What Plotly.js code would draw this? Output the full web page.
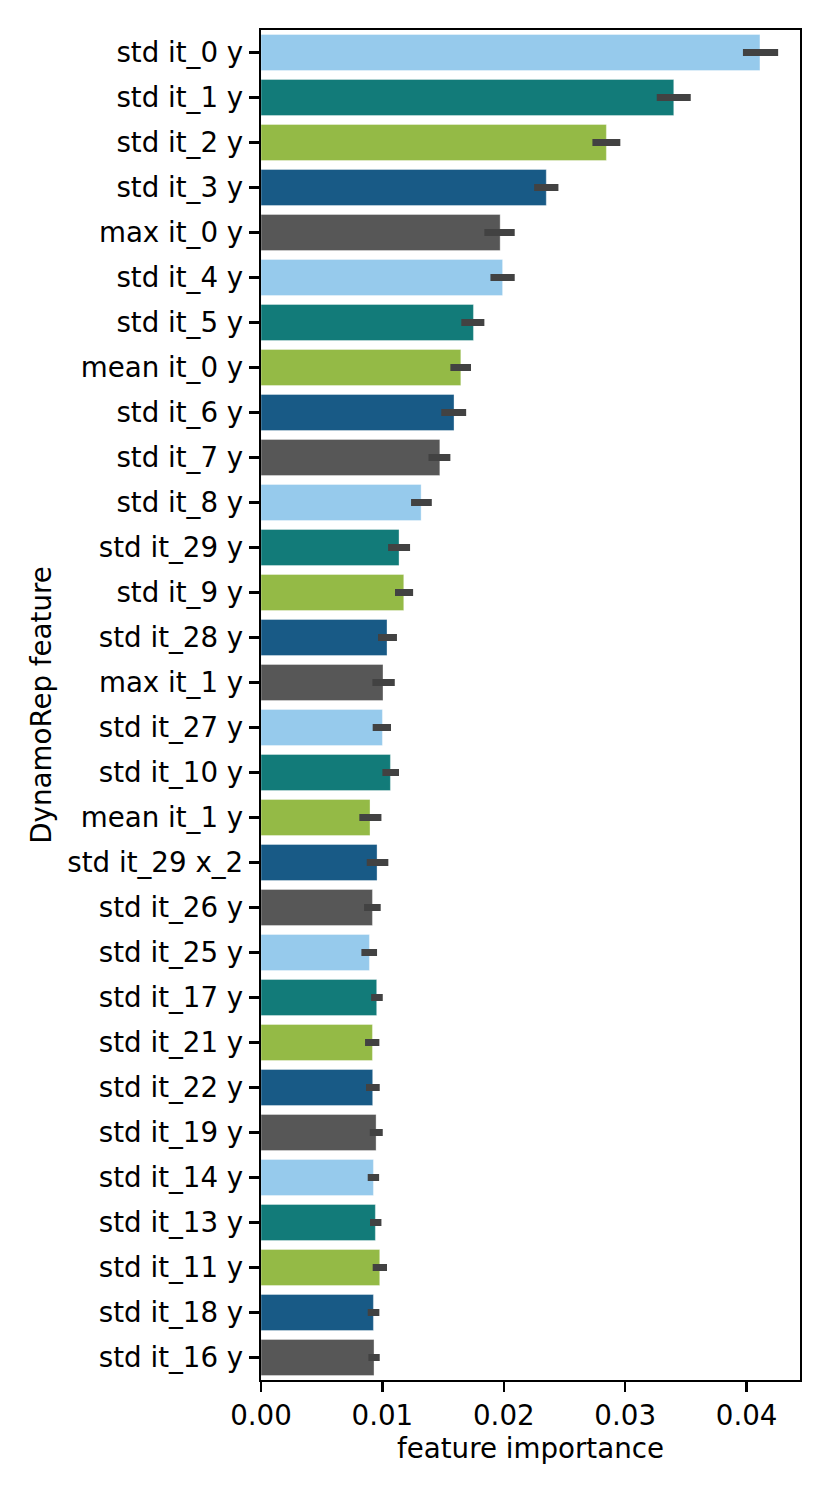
<!DOCTYPE html>
<html>
<head>
<meta charset="utf-8">
<script src="https://cdn.plot.ly/plotly-3.0.1.min.js"></script>
<style>html,body{margin:0;padding:0;background:#fff;}#chart{width:830px;height:1495px;}</style>
</head>
<body>
<div id="chart"></div>
<script>
const features = ["std it_0 y","std it_1 y","std it_2 y","std it_3 y","max it_0 y","std it_4 y","std it_5 y","mean it_0 y","std it_6 y","std it_7 y","std it_8 y","std it_29 y","std it_9 y","std it_28 y","max it_1 y","std it_27 y","std it_10 y","mean it_1 y","std it_29 x_2","std it_26 y","std it_25 y","std it_17 y","std it_21 y","std it_22 y","std it_19 y","std it_14 y","std it_13 y","std it_11 y","std it_18 y","std it_16 y"];
const importance = [0.0411,0.0340,0.02845,0.0235,0.0197,0.0199,0.0175,0.01646,0.0159,0.01473,0.01319,0.01137,0.01176,0.01038,0.01005,0.0100,0.01066,0.00898,0.00956,0.00918,0.00893,0.00953,0.00918,0.0092,0.00948,0.00926,0.00942,0.00978,0.00926,0.00931];
const ciLow = [0.0397,0.0326,0.0273,0.0225,0.0184,0.0189,0.0165,0.0156,0.01485,0.0138,0.01236,0.01047,0.01104,0.00964,0.00918,0.0092,0.0100,0.0081,0.00871,0.00849,0.00827,0.00907,0.00857,0.00865,0.00896,0.00879,0.00898,0.0092,0.00879,0.00885];
const ciHigh = [0.0426,0.0354,0.0296,0.0245,0.0209,0.0209,0.0184,0.0173,0.0169,0.0156,0.01407,0.01228,0.01253,0.0112,0.01102,0.01071,0.01137,0.00992,0.01049,0.00986,0.00956,0.01003,0.00975,0.00978,0.01003,0.00973,0.00992,0.01038,0.00975,0.00978];
const palette = ["#96CAEC","#127B79","#94BA46","#185A86","#575757"];
const xTicks = [0, 0.01, 0.02, 0.03, 0.04];
const xTickText = ["0.00","0.01","0.02","0.03","0.04"];

const colors = features.map((_, i) => palette[i % palette.length]);
const errPlus = importance.map((v, i) => ciHigh[i] - v);
const errMinus = importance.map((v, i) => v - ciLow[i]);

const font = {family: "DejaVu Sans", size: 27.7, color: "#000"};

Plotly.newPlot("chart", [{
  type: "bar",
  orientation: "h",
  x: importance,
  y: features,
  marker: {color: colors, line: {color: "rgba(255,255,255,0.35)", width: 1}},
  error_x: {type: "data", symmetric: false, array: errPlus, arrayminus: errMinus,
            color: "#424242", thickness: 7, width: 0},
  hoverinfo: "x+y"
}], {
  width: 830, height: 1495,
  margin: {l: 261, r: 30, t: 30, b: 115, pad: 0},
  paper_bgcolor: "#fff", plot_bgcolor: "#fff",
  font: font,
  bargap: 0.2,
  showlegend: false,
  xaxis: {
    range: [0, 0.0444], tickvals: xTicks, ticktext: xTickText,
    showgrid: false, zeroline: false,
    showline: true, linecolor: "#000", linewidth: 2.2, mirror: true,
    ticks: "outside", ticklen: 10, tickwidth: 2.2, tickcolor: "#000",
    tickfont: font,
    title: {text: "feature importance", font: font, standoff: 3}
  },
  yaxis: {
    type: "category", categoryarray: features, categoryorder: "array",
    autorange: "reversed",
    showgrid: false, zeroline: false,
    showline: true, linecolor: "#000", linewidth: 2.2, mirror: true,
    ticks: "outside", ticklen: 10, tickwidth: 2.2, tickcolor: "#000",
    tickfont: font,
    title: {text: "DynamoRep feature", font: font, standoff: 8}
  }
}, {displayModeBar: false, staticPlot: true});
</script>
</body>
</html>
